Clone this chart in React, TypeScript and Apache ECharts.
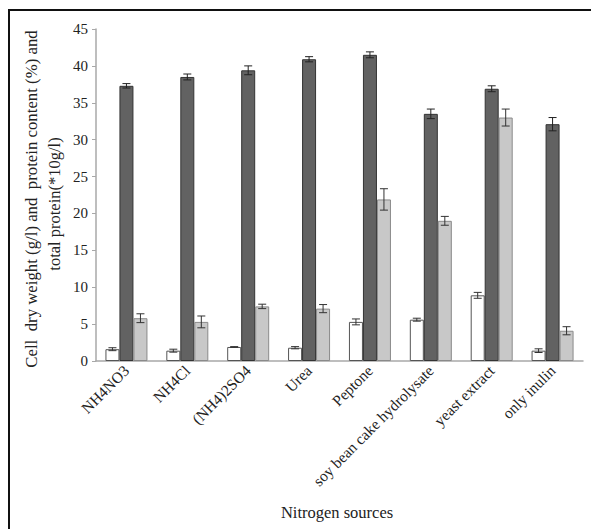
import React, { useEffect, useRef } from "react";
import * as echarts from "echarts";

const categories = [
  "NH4NO3",
  "NH4Cl",
  "(NH4)2SO4",
  "Urea",
  "Peptone",
  "soy bean cake hydrolysate",
  "yeast extract",
  "only inulin",
];

// Cell dry weight (g/l)
const cellDryWeight = [1.6, 1.4, 1.9, 1.8, 5.3, 5.6, 8.9, 1.4];
const cellDryWeightErr = [0.2, 0.2, 0.05, 0.15, 0.4, 0.2, 0.4, 0.25];

// Protein content (%)
const proteinContent = [37.3, 38.5, 39.4, 40.9, 41.5, 33.5, 36.9, 32.1];
const proteinContentErr = [0.3, 0.4, 0.6, 0.35, 0.4, 0.65, 0.4, 0.9];

// Total protein (*10 g/l)
const totalProtein = [5.8, 5.3, 7.4, 7.1, 21.9, 19.0, 33.0, 4.1];
const totalProteinErr = [0.6, 0.8, 0.3, 0.55, 1.45, 0.6, 1.15, 0.55];

const FONT = "Liberation Serif, Times New Roman, serif";
const BAR_W = 14;

const seriesDefs = [
  { name: "Cell dry weight", values: cellDryWeight, errs: cellDryWeightErr, fill: "#ffffff", border: "#555555", errColor: "#333333" },
  { name: "Protein content", values: proteinContent, errs: proteinContentErr, fill: "#626262", border: "#333333", errColor: "#222222" },
  { name: "Total protein", values: totalProtein, errs: totalProteinErr, fill: "#c8c8c8", border: "#8a8a8a", errColor: "#333333" },
];

export default function App() {
  const ref = useRef<HTMLDivElement>(null);

  useEffect(() => {
    if (!ref.current) return;
    const chart = echarts.init(ref.current, undefined, { renderer: "svg" });

    const barSeries = seriesDefs.map((s) => ({
      name: s.name,
      type: "bar",
      data: s.values,
      barWidth: BAR_W,
      barGap: "0%",
      itemStyle: { color: s.fill, borderColor: s.border, borderWidth: 1 },
      z: 2,
    }));

    const errorSeries = seriesDefs.map((s, k) => ({
      name: s.name + " error",
      type: "custom",
      z: 5,
      data: s.values.map((v, i) => [i, v, s.errs[i]]),
      encode: { x: 0, y: 1 },
      renderItem: (params: any, api: any) => {
        const i = api.value(0);
        const v = api.value(1);
        const e = api.value(2);
        const top = api.coord([i, v + e]);
        const bot = api.coord([i, v - e]);
        const x = top[0] + (k - 1) * BAR_W;
        const cap = 4;
        const style = { stroke: s.errColor, lineWidth: 1 };
        return {
          type: "group",
          children: [
            { type: "line", shape: { x1: x, y1: top[1], x2: x, y2: bot[1] }, style },
            { type: "line", shape: { x1: x - cap, y1: top[1], x2: x + cap, y2: top[1] }, style },
            { type: "line", shape: { x1: x - cap, y1: bot[1], x2: x + cap, y2: bot[1] }, style },
          ],
        };
      },
    }));

    chart.setOption({
      animation: false,
      backgroundColor: "#ffffff",
      grid: { left: 96, right: 8, top: 29, bottom: 168, containLabel: false },
      xAxis: {
        type: "category",
        data: categories,
        axisLine: { lineStyle: { color: "#a8a8a8", width: 1.5 } },
        axisTick: { show: false },
        axisLabel: {
          rotate: 45,
          interval: 0,
          margin: 7,
          color: "#222222",
          fontFamily: FONT,
          fontSize: 15.5,
        },
      },
      yAxis: {
        type: "value",
        min: 0,
        max: 45,
        interval: 5,
        axisLine: { show: true, lineStyle: { color: "#a8a8a8", width: 1.5 } },
        axisTick: { show: true, length: 4, lineStyle: { color: "#a8a8a8" } },
        splitLine: { show: false },
        axisLabel: { margin: 8, color: "#222222", fontFamily: FONT, fontSize: 15 },
      },
      graphic: [
        { type: "line", shape: { x1: 8, y1: 10, x2: 591, y2: 10 }, style: { stroke: "#111111", lineWidth: 2 } },
        { type: "line", shape: { x1: 9, y1: 10, x2: 9, y2: 529 }, style: { stroke: "#111111", lineWidth: 2 } },
        {
          type: "text",
          x: 31,
          y: 199,
          rotation: Math.PI / 2,
          style: {
            text: "Cell  dry weight (g/l) and  protein content (%) and",
            fontFamily: FONT,
            fontSize: 16.8,
            fill: "#222222",
            textAlign: "center",
            textVerticalAlign: "middle",
          },
        },
        {
          type: "text",
          x: 54,
          y: 204,
          rotation: Math.PI / 2,
          style: {
            text: "total protein(*10g/l)",
            fontFamily: FONT,
            fontSize: 16.5,
            fill: "#222222",
            textAlign: "center",
            textVerticalAlign: "middle",
          },
        },
        {
          type: "text",
          x: 337,
          y: 512,
          style: {
            text: "Nitrogen sources",
            fontFamily: FONT,
            fontSize: 16.5,
            fill: "#222222",
            textAlign: "center",
            textVerticalAlign: "middle",
          },
        },
      ],
      series: [...barSeries, ...errorSeries],
    });

    return () => chart.dispose();
  }, []);

  return (
    <div
      ref={ref}
      style={{ position: "fixed", left: 0, top: 0, width: 591, height: 529 }}
    />
  );
}
